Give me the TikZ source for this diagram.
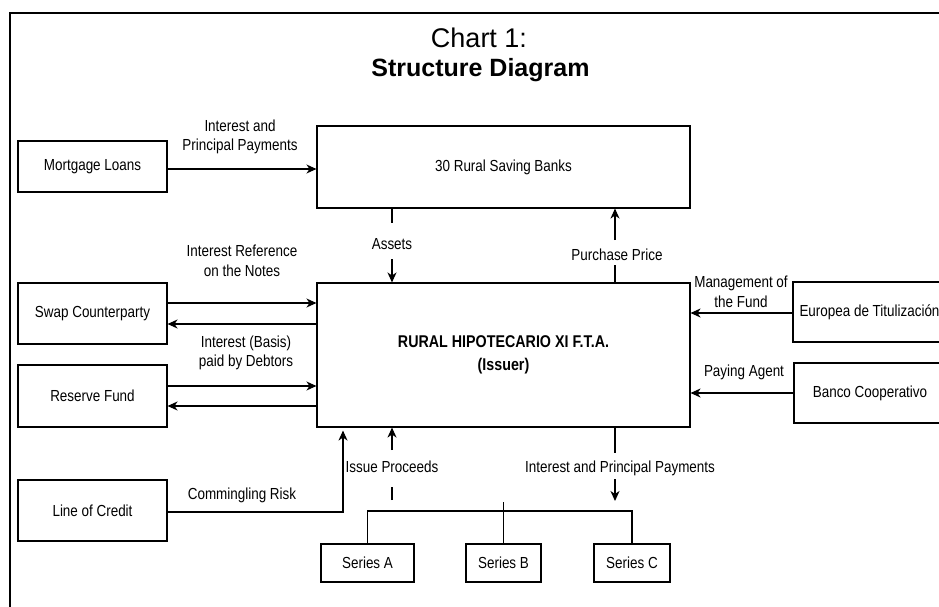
\documentclass[tikz,border=0pt]{standalone}
\usepackage{fontspec}
\setmainfont{Liberation Sans}[FakeStretch=0.84]
\newfontfamily\titlefont{Liberation Sans}
\usetikzlibrary{arrows.meta}
\begin{document}
\begin{tikzpicture}[x=1pt,y=-1pt,
  every node/.style={font=\fontsize{16}{19.5}\selectfont},
  box/.style={draw, line width=1.1pt, inner sep=0pt, align=center},
  lbl/.style={inner sep=1pt, align=center},
  conn/.style={line width=1.1pt},
  arr/.style={conn, -{Stealth[length=10pt,width=9pt,inset=3pt]}}]
\useasboundingbox (0,0) rectangle (939,607);
\clip (0,0) rectangle (939,607);
\fill[white] (0,0) rectangle (939,607);
% frame
\draw[line width=2.2pt] (10,607) |- (939,13);
% title
\node[font=\titlefont\fontsize{27}{30}\selectfont, anchor=base, inner sep=0pt] (t1) at (479,48) {Chart 1:};
\node[font=\titlefont\bfseries\fontsize{25}{30}\selectfont, anchor=base, inner sep=0pt] (t2) at (480.5,77) {Structure Diagram};
% boxes
\node[box, minimum width=149pt, minimum height=51pt] (mort) at (92.5,166.5) {Mortgage Loans};
\node[box, minimum width=373pt, minimum height=82pt] (banks) at (503.5,167) {30 Rural Saving Banks};
\node[box, minimum width=373pt, minimum height=144pt, font=\fontsize{17}{23}\selectfont\bfseries] (issuer) at (503.5,355) {RURAL HIPOTECARIO XI F.T.A.\\(Issuer)};
\node[box, minimum width=149pt, minimum height=61pt] (swap) at (92.5,313.5) {Swap Counterparty};
\node[box, minimum width=149pt, minimum height=62pt] (reserve) at (92.5,396) {Reserve Fund};
\node[box, minimum width=149pt, minimum height=61pt] (credit) at (92.5,510.5) {Line of Credit};
\node[box, minimum width=153pt, minimum height=60pt] (europea) at (869.5,312) {Europea de Titulización};
\node[box, minimum width=152pt, minimum height=60pt] (banco) at (870,393) {Banco Cooperativo};
\node[box, minimum width=93pt, minimum height=38pt] (sA) at (367.5,563) {Series A};
\node[box, minimum width=75pt, minimum height=38pt] (sB) at (503.5,563) {Series B};
\node[box, minimum width=76pt, minimum height=38pt] (sC) at (632,563) {Series C};
% labels
\node[lbl] (l1) at (240,137) {Interest and\\Principal Payments};
\node[lbl] (l2) at (242,261) {Interest Reference\\on the Notes};
\node[lbl] (l3) at (246,353) {Interest (Basis)\\paid by Debtors};
\node[lbl] (l4) at (242,495) {Commingling Risk};
\node[lbl] (l5) at (392,244) {Assets};
\node[lbl] (l6) at (617,255) {Purchase Price};
\node[lbl] (l7) at (392,467) {Issue Proceeds};
\node[lbl] (l8) at (620,468) {Interest and Principal Payments};
\node[lbl] (l9) at (741,292) {Management of\\the Fund};
\node[lbl] (l10) at (744,372) {Paying Agent};
% coordinates
\coordinate (a1) at (392,223); \coordinate (a2) at (392,259);
\coordinate (p1) at (615,265); \coordinate (p2) at (615,240);
\coordinate (i1) at (392,500); \coordinate (i2) at (392,487); \coordinate (i3) at (392,450);
\coordinate (b1) at (615,453); \coordinate (b2) at (615,479); \coordinate (b3) at (615,501);
\coordinate (bus) at (0,511);
\coordinate (cr) at (343,0);
% connectors
\draw[arr] (mort.east |- 0,169) -- (banks.west |- 0,169);
\draw[conn] (banks.south -| a1) -- (a1);
\draw[arr] (a2) -- (issuer.north -| a2);
\draw[conn] (issuer.north -| p1) -- (p1);
\draw[arr] (p2) -- (banks.south -| p2);
\draw[arr] (swap.east |- 0,303) -- (issuer.west |- 0,303);
\draw[arr] (issuer.west |- 0,324) -- (swap.east |- 0,324);
\draw[arr] (reserve.east |- 0,386) -- (issuer.west |- 0,386);
\draw[arr] (issuer.west |- 0,406) -- (reserve.east |- 0,406);
\draw[arr] (credit.east |- 0,512) -| ([yshift=-3pt]issuer.south -| cr);
\draw[conn] (i1) -- (i2);
\draw[arr] (i3) -- (issuer.south -| i3);
\draw[conn] (issuer.south -| b1) -- (b1);
\draw[arr] (b2) -- (b3);
\draw[conn] (sA.north) |- (sC.north |- bus) -- (sC.north);
\draw[conn] (sB.north) -- (sB.north |- 0,502);
\draw[arr] (europea.west |- 0,313) -- (issuer.east |- 0,313);
\draw[arr] (banco.west |- 0,393) -- (issuer.east |- 0,393);
\end{tikzpicture}
\end{document}
